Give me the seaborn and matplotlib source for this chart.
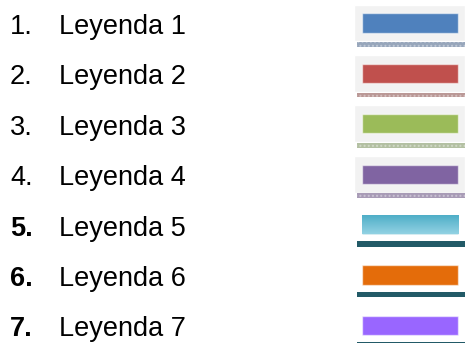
import numpy as np
import pandas as pd
import seaborn as sns
import matplotlib.pyplot as plt
from matplotlib import transforms

numeros = ['1.', '2.', '3.', '4.', '5.', '6.', '7.']
etiquetas = ['Leyenda 1', 'Leyenda 2', 'Leyenda 3', 'Leyenda 4',
             'Leyenda 5', 'Leyenda 6', 'Leyenda 7']
colores = ['#4F81BD', '#C0504D', '#9BBB59', '#8064A2',
           '#4BACC6', '#E46C0A', '#9966FF']
subrayados = ['#97A6BB', '#BA9896', '#B3C0A2', '#A89BB6',
              '#225A67', '#225A67', '#225A67']
negrita = [False, False, False, False, True, True, True]
anchos = [1, 1, 1, 1, 1, 1, 1]


if __name__ == '__main__':
    sns.set_style('white')
    plt.rcParams['font.family'] = ['Liberation Sans', 'DejaVu Sans']

    W, H = 465, 343
    fig = plt.figure(figsize=(W / 100, H / 100), dpi=100)
    ax = fig.add_axes([354 / W, 0, 111 / W, 1])

    df = pd.DataFrame({'etiqueta': etiquetas, 'ancho': anchos})
    sns.barplot(data=df, x='ancho', y='etiqueta', hue='etiqueta', palette=colores,
                saturation=1, legend=False, width=0.38, ax=ax,
                edgecolor=(1, 1, 1, 0.55), linewidth=1.0, zorder=3)

    # pixel geometry: swatch from x=362 to 458, rows every ~50.4 px
    paso = 50.4
    inicio = 23.0
    ax.set_xlim(-8 / 96, 103 / 96)
    ax.set_ylim(6 + (H - inicio - 6 * paso) / paso, -inicio / paso)
    ax.axis('off')

    n = len(etiquetas)
    for i in range(n):
        if i < 4:
            # grey panel behind the first four swatches
            ax.barh(i, 111 / 96, left=-8 / 96, height=0.73, color='#F2F2F2', zorder=1)
            ax.barh(i + 0.43, 108 / 96, left=-5 / 96, height=0.095,
                    color=subrayados[i], hatch='....', edgecolor=(1, 1, 1, 0.35),
                    linewidth=0, zorder=2)
        else:
            ax.barh(i + 0.39, 108 / 96, left=-5 / 96, height=0.11,
                    color=subrayados[i], linewidth=0, zorder=2)

    # gradient on the cyan swatch
    barra = ax.patches[4]
    x0, y0 = barra.get_x(), barra.get_y()
    grad = np.linspace(0, 1, 50).reshape(-1, 1)
    cmap = sns.blend_palette(['#4BACC6', '#92D2E3'], as_cmap=True)
    im = ax.imshow(grad, cmap=cmap, aspect='auto', zorder=4,
                   extent=(x0, x0 + barra.get_width(), y0 + barra.get_height(), y0))
    im.set_clip_path(barra)

    tr = transforms.blended_transform_factory(fig.transFigure, ax.transData)
    for i in range(n):
        peso = 'bold' if negrita[i] else 'normal'
        ax.text(10 / W, i + 0.22, numeros[i], transform=tr, fontsize=19.5,
                fontweight=peso, va='baseline', ha='left', color='black')
        ax.text(59 / W, i + 0.22, etiquetas[i], transform=tr, fontsize=19.5,
                va='baseline', ha='left', color='black')

    fig.savefig('out.png', dpi=100)
